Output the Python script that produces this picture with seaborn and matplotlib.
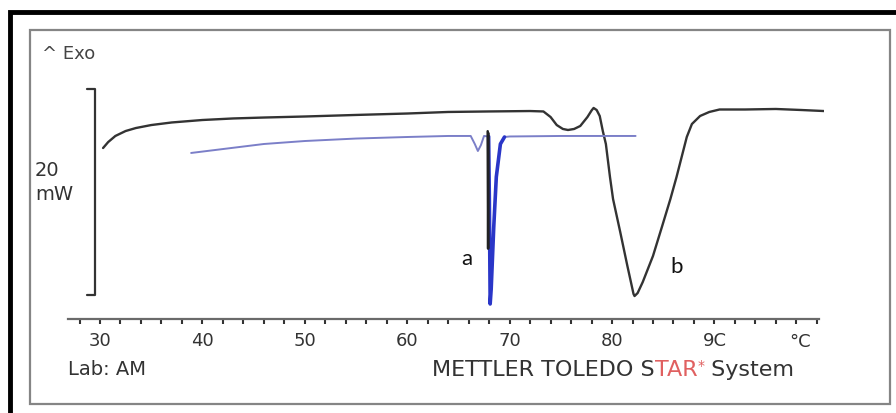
import numpy as np
import pandas as pd
import matplotlib
matplotlib.use("Agg")
import matplotlib.pyplot as plt
import matplotlib.transforms as mtransforms
from matplotlib.patches import Rectangle
import seaborn as sns

# ---------------- data (temperature in °C, heat flow in mW) ----------------
black_T = [30.3, 30.8, 31.5, 32.5, 33.5, 35, 37, 40, 43, 46, 50, 55, 60, 64, 68, 72,
           73.3, 74.0, 74.6, 75.2, 75.7, 76.3, 76.9, 77.6, 78.0, 78.2, 78.5, 78.8,
           79.1, 79.4, 79.8, 80.1, 80.8, 81.5, 82.1, 82.2, 82.5, 83.0, 84.0, 84.9,
           85.7, 86.3, 87.3, 87.8, 88.6, 89.5, 90.5, 93, 96, 98.5, 100.7]
black_mW = [14.27, 14.85, 15.44, 15.92, 16.21, 16.50, 16.75, 16.99, 17.14, 17.23,
            17.33, 17.48, 17.62, 17.77, 17.82, 17.86, 17.82, 17.28, 16.50, 16.12,
            16.02, 16.12, 16.41, 17.28, 17.91, 18.16, 17.96, 17.38, 15.92, 14.66,
            11.46, 9.32, 6.12, 2.82, 0.10, -0.10, 0.19, 1.26, 3.79, 6.70, 9.32,
            11.46, 15.34, 16.60, 17.38, 17.77, 18.01, 18.01, 18.06, 17.96, 17.86]

spike_T = [67.86, 67.9, 67.94]
spike_mW = [15.9, 4.5, 15.7]

blue_T = [38.9, 42, 46, 50, 55, 60, 64, 66.2, 66.6, 66.9, 67.2, 67.5, 67.95, 68.02,
          68.1, 68.2, 68.45, 68.7, 69.1, 69.5, 70, 75, 82.3]
blue_mW = [13.79, 14.17, 14.66, 14.95, 15.19, 15.34, 15.44, 15.44, 14.66, 13.98,
           14.56, 15.44, 15.39, 9.32, -0.87, 0.58, 6.60, 11.46, 14.66, 15.34,
           15.39, 15.44, 15.44]

major_ticks = [30, 40, 50, 60, 70, 80, 90]
tick_labels = ["30", "40", "50", "60", "70", "80", "9C"]
scale_mW = [0, 20]
peak_labels = ["a", "b"]
peak_label_T = [65.8, 86.3]
peak_label_mW = [3.6, 2.8]

# ---------------- figure ----------------
sns.set_style("white")
plt.rcParams["font.family"] = ["DejaVu Sans"]

W, H = 896, 414
fig = plt.figure(figsize=(W / 100, H / 100), dpi=100)


def fx(px):
    return px / W


def fy(py):
    return 1 - py / H


# frames
fig.patches.append(Rectangle((fx(10), fy(425)), fx(900) - fx(10), fy(13) - fy(425),
                             transform=fig.transFigure, fill=False, edgecolor="black",
                             linewidth=3.5, clip_on=False))
fig.patches.append(Rectangle((fx(30), fy(405)), fx(890) - fx(30), fy(31) - fy(405),
                             transform=fig.transFigure, fill=False, edgecolor="#858585",
                             linewidth=1.6))

ax = fig.add_axes([fx(68), fy(322), fx(824) - fx(68), fy(40) - fy(322)])
ax.patch.set_alpha(0)

black_df = pd.DataFrame({"T": black_T, "mW": black_mW})
spike_df = pd.DataFrame({"T": spike_T, "mW": spike_mW})
blue_df = pd.DataFrame({"T": blue_T, "mW": blue_mW})

sns.lineplot(data=black_df, x="T", y="mW", sort=False, estimator=None,
             color="#333333", linewidth=1.7, ax=ax)
sns.lineplot(data=blue_df, x="T", y="mW", sort=False, estimator=None,
             color="#7b7fc8", linewidth=1.4, ax=ax)
blue_peak = blue_df[(blue_df["T"] >= 67.95) & (blue_df["T"] <= 69.5)]
sns.lineplot(data=blue_peak, x="T", y="mW", sort=False, estimator=None,
             color="#2a36c8", linewidth=2.6, ax=ax)
sns.lineplot(data=spike_df, x="T", y="mW", sort=False, estimator=None,
             color="#222222", linewidth=1.8, ax=ax)
for line in ax.get_lines():
    line.set_solid_joinstyle("round")

ax.set_xlim(26.875, 100.7)
ax.set_ylim(-2.524, 24.854)
ax.set_xlabel("")
ax.set_ylabel("")
for s in ["left", "top", "right"]:
    ax.spines[s].set_visible(False)
ax.spines["bottom"].set_position(("data", -2.33))
ax.spines["bottom"].set_color("#6a6a6a")
ax.spines["bottom"].set_linewidth(1.6)
ax.spines["bottom"].set_bounds(26.875, 100.2)
ax.set_yticks([])
ax.set_xticks(major_ticks)
ax.set_xticklabels(tick_labels)
ax.set_xticks(np.arange(28, 101, 2), minor=True)
ax.tick_params(axis="x", which="both", bottom=True, direction="out", length=3.5,
               width=1.5, color="#333333")
ax.tick_params(axis="x", which="major", labelsize=13, labelcolor="#333333", pad=5)
fig.text(fx(800), fy(342), "°C", ha="center", va="center", fontsize=13, color="#333333")

# scale bar (20 mW)
bt = mtransforms.blended_transform_factory(ax.transAxes, ax.transData)
xb, xc = (95 - 68) / 756, (87 - 68) / 756
ax.plot([xc, xb, xb, xc], [scale_mW[1], scale_mW[1], scale_mW[0], scale_mW[0]],
        transform=bt, color="#333333", linewidth=1.6, clip_on=False)

# peak labels
for lab, t, v in zip(peak_labels, peak_label_T, peak_label_mW):
    ax.text(t, v, lab, ha="center", va="center", fontsize=16, color="#111111",
            family=["Lato", "DejaVu Sans"])

# texts
fig.text(fx(42), fy(54), "^ Exo", ha="left", va="center", fontsize=13, color="#444444")
fig.text(fx(35), fy(170), "20", ha="left", va="center", fontsize=14, color="#333333")
fig.text(fx(35), fy(195), "mW", ha="left", va="center", fontsize=14, color="#333333")
fig.text(fx(68), fy(370), "Lab: AM", ha="left", va="center", fontsize=14, color="#333333")

renderer = fig.canvas.get_renderer()
pieces = [("METTLER TOLEDO S", "#333333", 16, 0), ("TAR", "#e06060", 16, 0),
          ("*", "#e06060", 10, 4), (" System", "#333333", 16, 0)]
xcur = 432
for txt, col, fs, dy in pieces:
    t = fig.text(fx(xcur), fy(370 - dy), txt, ha="left", va="center", fontsize=fs, color=col)
    bb = t.get_window_extent(renderer=renderer)
    xcur += bb.width

fig.savefig("out.png", dpi=100)
